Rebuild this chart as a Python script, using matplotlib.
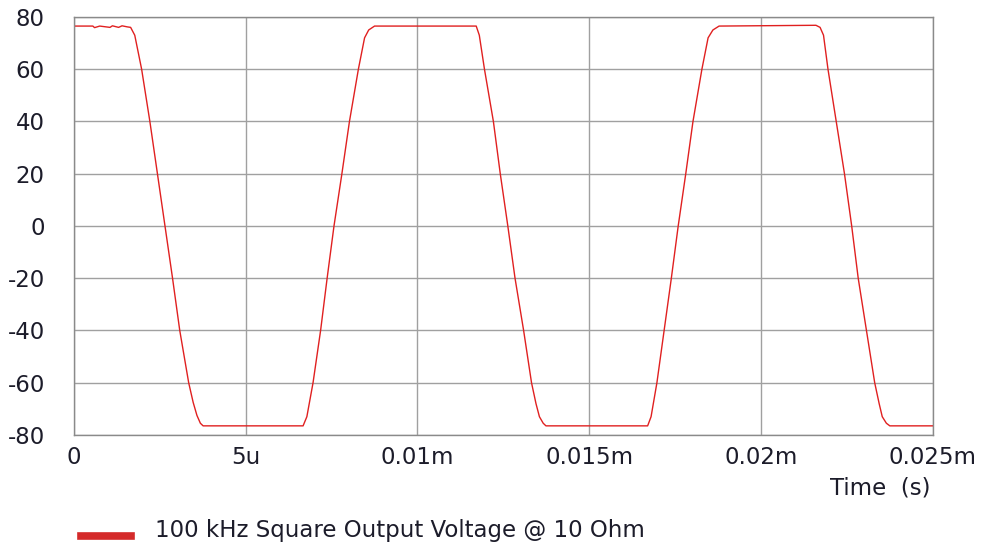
import matplotlib
matplotlib.use("Agg")
import matplotlib.pyplot as plt
from matplotlib.lines import Line2D

# waveform: time in microseconds, voltage in volts
t_us = [0.0, 0.55, 0.6, 0.75, 1.05, 1.12, 1.3, 1.4, 1.55, 1.65,
        1.77, 1.97, 2.21, 2.43, 2.65, 2.87, 3.08, 3.34, 3.47, 3.58, 3.68, 3.76,
        6.67, 6.78, 6.96, 7.18, 7.37, 7.57, 7.80, 8.02, 8.28, 8.46, 8.58, 8.75,
        11.71, 11.80, 11.95, 12.21, 12.41, 12.63, 12.84, 13.09, 13.32, 13.45, 13.55, 13.66, 13.74,
        16.70, 16.80, 16.97, 17.18, 17.39, 17.59, 17.81, 18.02, 18.28, 18.46, 18.60, 18.78,
        21.60, 21.72, 21.82, 21.95, 22.19, 22.43, 22.64, 22.83, 23.07, 23.31, 23.44, 23.53, 23.65, 23.75,
        25.0]
volts = [76.5, 76.5, 75.9, 76.5, 76.0, 76.6, 76.0, 76.6, 76.2, 76.0,
         73.0, 60.0, 40.0, 20.0, 0.0, -20.0, -40.0, -60.0, -67.5, -72.5, -75.5, -76.5,
         -76.5, -73.0, -60.0, -40.0, -20.0, 0.0, 20.0, 40.0, 60.0, 72.0, 75.0, 76.5,
         76.5, 73.0, 60.0, 40.0, 20.0, 0.0, -20.0, -40.0, -60.0, -68.0, -73.0, -75.5, -76.5,
         -76.5, -73.0, -60.0, -40.0, -20.0, 0.0, 20.0, 40.0, 60.0, 72.0, 75.0, 76.5,
         76.8, 76.0, 73.0, 60.0, 40.0, 20.0, 0.0, -20.0, -40.0, -60.0, -68.0, -73.0, -75.5, -76.5,
         -76.5]

x_ticks = [0, 5, 10, 15, 20, 25]
x_labels = ["0", "5u", "0.01m", "0.015m", "0.02m", "0.025m"]
y_ticks = [-80, -60, -40, -20, 0, 20, 40, 60, 80]
legend_text = "100 kHz Square Output Voltage @ 10 Ohm"

plt.rcParams["font.family"] = ["DejaVu Sans"]
plt.rcParams["axes.unicode_minus"] = False
txt = "#1c1c2a"
fs = 16.5

fig = plt.figure(figsize=(9.86, 5.46), dpi=100)
ax = fig.add_axes([0.075, 0.2033, 0.871, 0.7657])

ax.plot(t_us, volts, color="#e02020", lw=1.0)

ax.set_xlim(0, 25)
ax.set_ylim(-80, 80)
ax.set_xticks(x_ticks)
ax.set_xticklabels(x_labels)
ax.set_yticks(y_ticks)
ax.tick_params(length=0, labelsize=fs, colors=txt)
ax.tick_params(axis="y", pad=21)
ax.tick_params(axis="x", pad=8)
ax.grid(True, color="#a0a0a0", lw=1.0)
for s in ax.spines.values():
    s.set_color("#8a8a8a")
    s.set_linewidth(1.0)

fig.text(0.944, 0.106, "Time  (s)", ha="right", va="center", fontsize=fs, color=txt)

fig.add_artist(Line2D([0.082, 0.133], [0.019, 0.019], color="#d42a2a", lw=5.5,
                      transform=fig.transFigure))
fig.text(0.157, 0.028, legend_text, ha="left", va="center", fontsize=fs, color=txt)

fig.savefig("out.png", dpi=100)
